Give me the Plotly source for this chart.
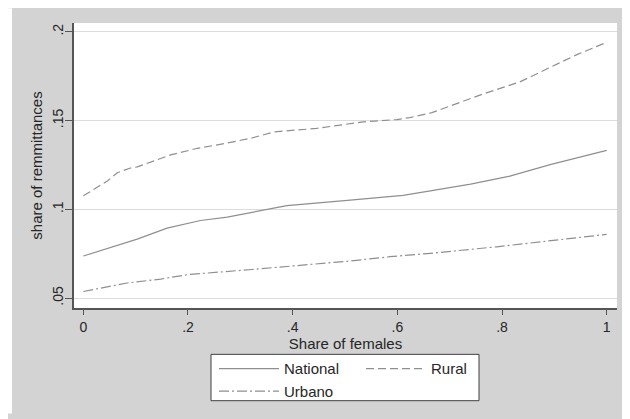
import plotly.graph_objects as go

# ---- data ----
nat_x = [0.0, 0.05, 0.103, 0.16, 0.224, 0.275, 0.322, 0.389, 0.51, 0.611, 0.663, 0.74, 0.815, 0.892, 1.0]
nat_y = [0.0737, 0.0785, 0.0832, 0.0894, 0.0937, 0.0956, 0.0984, 0.1021, 0.1052, 0.1079, 0.1104, 0.1142, 0.1187, 0.1252, 0.1332]

rur_x = [0.0, 0.046, 0.065, 0.09, 0.103, 0.167, 0.218, 0.269, 0.322, 0.366, 0.446, 0.535, 0.599, 0.624, 0.666, 0.764, 0.834, 0.905, 0.943, 1.0]
rur_y = [0.1076, 0.116, 0.1206, 0.1233, 0.1239, 0.1307, 0.1344, 0.137, 0.1402, 0.1437, 0.1456, 0.1493, 0.1506, 0.1517, 0.1545, 0.165, 0.1718, 0.1817, 0.1872, 0.1941]

urb_x = [0.0, 0.084, 0.148, 0.199, 0.322, 0.446, 0.51, 0.586, 0.663, 0.79, 0.886, 1.0]
urb_y = [0.0537, 0.0585, 0.0607, 0.0632, 0.0661, 0.0691, 0.0709, 0.0733, 0.0752, 0.0789, 0.0822, 0.0859]

x_ticks = [0, 0.2, 0.4, 0.6, 0.8, 1.0]
x_ticklabels = ["0", ".2", ".4", ".6", ".8", "1"]
y_ticks = [0.05, 0.1, 0.15, 0.2]
y_ticklabels = [".05", ".1", ".15", ".2"]

LINE = "#8f8f8f"
TEXT = "#262626"
BG = "#d3d3d3"
FONT = "Liberation Sans, Arial, sans-serif"

fig = go.Figure()
fig.add_trace(go.Scatter(x=nat_x, y=nat_y, mode="lines", name="National",
                         legendgroup="a", line=dict(color=LINE, width=1.2, dash="solid")))
fig.add_trace(go.Scatter(x=rur_x, y=rur_y, mode="lines", name="Rural",
                         legendgroup="b", line=dict(color=LINE, width=1.2, dash="8px,4px")))
fig.add_trace(go.Scatter(x=urb_x, y=urb_y, mode="lines", name="Urbano",
                         legendgroup="a", line=dict(color=LINE, width=1.2, dash="10px,3px,2px,3px")))

# page offset of the figure (browser body margin)
OFF = 8
W, H = 622, 411
L, R, T, B = 66, 13, 15, 107
pw, ph = W - L - R, H - T - B

def px_x(p):
    """page x pixel -> paper fraction"""
    return (p - OFF - L) / pw

def px_y(p):
    """page y pixel -> paper fraction"""
    return (H - B - (p - OFF)) / ph

fig.update_layout(
    width=W, height=H,
    margin=dict(l=L, r=R, t=T, b=B, pad=0),
    paper_bgcolor=BG, plot_bgcolor="white",
    font=dict(family=FONT, size=14, color=TEXT),
    showlegend=True,
    legend=dict(orientation="h", traceorder="grouped", xanchor="left", x=px_x(214),
                y=px_y(357), yanchor="top", bgcolor="rgba(0,0,0,0)",
                borderwidth=0, font=dict(size=15, color=TEXT),
                entrywidth=72, tracegroupgap=0, itemwidth=60),
    shapes=[
        dict(type="rect", xref="paper", yref="paper", x0=px_x(OFF), x1=px_x(12),
             y0=px_y(OFF + H), y1=px_y(OFF), fillcolor="white", line=dict(width=0),
             layer="above"),
        dict(type="rect", xref="paper", yref="paper", x0=px_x(211), x1=px_x(479),
             y0=px_y(406), y1=px_y(359), fillcolor="white",
             line=dict(color="#404040", width=1), layer="below"),
    ],
)

fig.update_xaxes(
    range=[-0.0178, 1.0197], tickvals=x_ticks, ticktext=x_ticklabels,
    showgrid=False, zeroline=False, showline=True, linecolor="#555555", linewidth=1.5,
    ticks="outside", ticklen=5, tickcolor="#555555", tickwidth=1.2,
    tickfont=dict(size=14, color=TEXT),
    title=dict(text="Share of females", font=dict(size=15, color=TEXT), standoff=0),
)
fig.update_yaxes(
    range=[0.0444, 0.2050], tickvals=y_ticks, ticktext=y_ticklabels, tickangle=-90,
    showgrid=True, gridcolor="#dcdcdc", gridwidth=1, zeroline=False,
    showline=True, linecolor="#555555", linewidth=1.5,
    ticks="outside", ticklen=7, tickcolor="#555555", tickwidth=1.2,
    ticklabelstandoff=-3,
    tickfont=dict(size=14, color=TEXT),
    title=dict(text="share of remmittances", font=dict(size=15, color=TEXT), standoff=3),
)

fig.write_html("out.html")
